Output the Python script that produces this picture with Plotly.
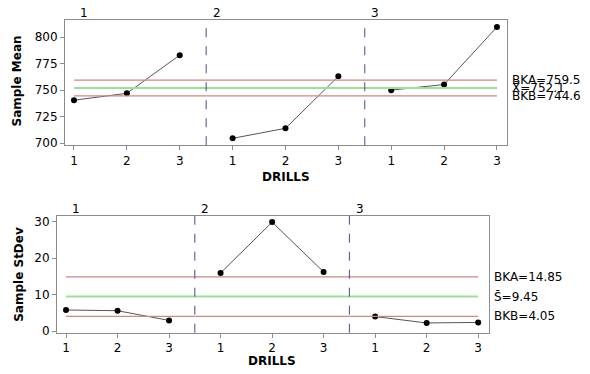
import plotly.graph_objects as go

drills = ["1", "2", "3"]
samples = ["1", "2", "3"]
sample_mean = [[740.5, 747.0, 783.0], [704.5, 714.0, 763.0], [750.0, 755.3, 809.5]]
sample_sd = [[5.8, 5.6, 2.95], [15.9, 29.8, 16.2], [4.0, 2.25, 2.4]]
mean_limits = {"BKA": 759.5, "center": 752.1, "BKB": 744.6}
sd_limits = {"BKA": 14.85, "center": 9.45, "BKB": 4.05}

W, H = 590, 374
FONT = "DejaVu Sans"
RED = "#C98A86"
GREEN = "#9ADF9A"
DASH = "#4A4A80"
GRAY = "#8C8C8C"


def pxx(p):
    return p / W


def pxy(p):
    return 1 - p / H


n = len(drills) * len(samples)
xs = list(range(1, n + 1))
ticktext = samples * len(drills)

fig = go.Figure()


def add_panel(values, limits, xa, ya, clabel, label_y):
    for g, vals in enumerate(values):
        gx = xs[g * 3:(g + 1) * 3]
        fig.add_trace(go.Scatter(x=gx, y=vals, mode="lines+markers",
                                 line=dict(color="#555555", width=1),
                                 marker=dict(color="black", size=6),
                                 xaxis=xa, yaxis=ya, showlegend=False))
    for key, col in (("BKA", RED), ("center", GREEN), ("BKB", RED)):
        fig.add_trace(go.Scatter(x=[xs[0], xs[-1]], y=[limits[key]] * 2, mode="lines",
                                 line=dict(color=col, width=1.3 if key != "center" else 2),
                                 xaxis=xa, yaxis=ya, showlegend=False, hoverinfo="skip"))
    for b in (3.5, 6.5):
        fig.add_shape(type="line", x0=b, x1=b, y0=0, y1=1, xref=xa, yref=ya + " domain",
                      line=dict(color=DASH, width=1, dash="dash"))
    for g, lx in zip(drills, (1.19, 3.7, 6.7)):
        fig.add_annotation(x=lx, y=pxy(label_y), xref=xa, yref="paper", text=g, showarrow=False,
                           xanchor="center", yanchor="middle", borderpad=0,
                           font=dict(size=12, color="black", family=FONT))
    labels = [("BKA=" + f"{limits['BKA']}", limits["BKA"]),
              (clabel + "=" + f"{limits['center']}", limits["center"]),
              ("BKB=" + f"{limits['BKB']}", limits["BKB"])]
    for t, v in labels:
        fig.add_annotation(x=1.0, y=v, xref=xa + " domain", yref=ya, text=t,
                           showarrow=False, xanchor="left", yanchor="middle", xshift=4,
                           borderpad=0, font=dict(size=12, color="black", family=FONT))


add_panel(sample_mean, mean_limits, "x", "y", "X\u0304", 12)
add_panel(sample_sd, sd_limits, "x2", "y2", "S\u0304", 212)

axis_common = dict(showgrid=False, zeroline=False, showline=True, linecolor=GRAY, linewidth=1,
                   mirror=True, ticks="outside", ticklen=4, tickcolor=GRAY,
                   tickfont=dict(size=12, color="black", family=FONT))

fig.update_layout(
    width=W, height=H, margin=dict(l=0, r=0, t=0, b=0),
    paper_bgcolor="white", plot_bgcolor="white",
    font=dict(family=FONT, color="black"),
    xaxis=dict(domain=[pxx(65), pxx(507)], range=[0.83, 9.19], tickvals=xs, ticktext=ticktext,
               anchor="y", **axis_common),
    yaxis=dict(domain=[pxy(147), pxy(19)], range=[698, 816.5], tickvals=[700, 725, 750, 775, 800],
               anchor="x", **axis_common),
    xaxis2=dict(domain=[pxx(57), pxx(489)], range=[0.825, 9.21], tickvals=xs, ticktext=ticktext,
                anchor="y2", **axis_common),
    yaxis2=dict(domain=[pxy(338), pxy(219)], range=[-0.4, 31.5], tickvals=[0, 10, 20, 30],
                anchor="x2", **axis_common),
)

bold = dict(size=12, color="black", family=FONT)
for text, x, y, ang in (("<b>DRILLS</b>", 286, 179, 0), ("<b>DRILLS</b>", 272, 367, 0),
                        ("<b>Sample Mean</b>", 17, 82, -90), ("<b>Sample StDev</b>", 19, 279, -90)):
    fig.add_annotation(x=pxx(x), y=pxy(y), xref="paper", yref="paper", text=text,
                       showarrow=False, textangle=ang, xanchor="center", yanchor="middle",
                       borderpad=0, font=bold)

fig.write_html("out.html", config={"displayModeBar": False},
               post_script="document.body.style.margin='0';document.body.style.overflow='hidden';")
